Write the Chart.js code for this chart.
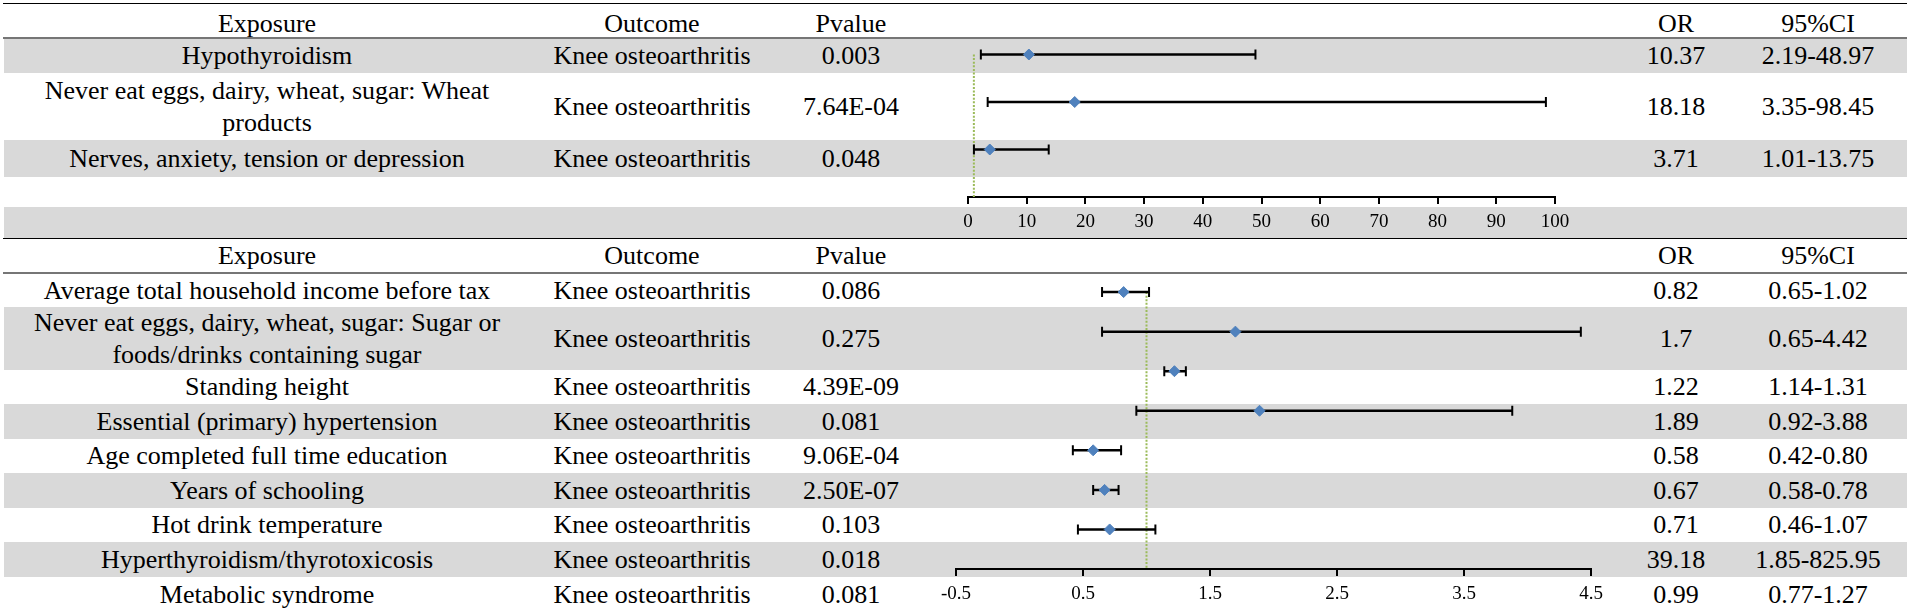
<!DOCTYPE html>
<html>
<head>
<meta charset="utf-8">
<script src="https://cdn.jsdelivr.net/npm/chart.js@4.4.1/dist/chart.umd.min.js"></script>
<style>
html,body{margin:0;padding:0;background:#fff;}
#page{position:relative;width:1908px;height:612px;overflow:hidden;font-family:'Liberation Serif','Times New Roman',serif;color:#000;}
.band{position:absolute;left:4px;width:1903px;background:#d9d9d9;}
.rule{position:absolute;left:3px;width:1904px;}
.cell{position:absolute;width:700px;display:flex;align-items:center;justify-content:center;text-align:center;font-size:26px;line-height:1.2;white-space:pre-line;}
canvas{position:absolute;left:0;top:0;}
</style>
</head>
<body>
<div id="page">
  <div id="table"></div>
  <canvas id="topChart" width="1908" height="612"></canvas>
  <canvas id="botChart" width="1908" height="612"></canvas>
</div>
<script>
// ---------------- DATA ----------------
const columnHeaders = ['Exposure', 'Outcome', 'Pvalue', 'OR', '95%CI'];

const topExposures = [
  'Hypothyroidism',
  'Never eat eggs, dairy, wheat, sugar: Wheat\nproducts',
  'Nerves, anxiety, tension or depression'
];
const topOutcomes = ['Knee osteoarthritis', 'Knee osteoarthritis', 'Knee osteoarthritis'];
const topPvalues = ['0.003', '7.64E-04', '0.048'];
const topOR = [10.37, 18.18, 3.71];
const topLower = [2.19, 3.35, 1.01];
const topUpper = [48.97, 98.45, 13.75];
const topTicks = [0, 10, 20, 30, 40, 50, 60, 70, 80, 90, 100];

const botExposures = [
  'Average total household income before tax',
  'Never eat eggs, dairy, wheat, sugar: Sugar or\nfoods/drinks containing sugar',
  'Standing height',
  'Essential (primary) hypertension',
  'Age completed full time education',
  'Years of schooling',
  'Hot drink temperature',
  'Hyperthyroidism/thyrotoxicosis',
  'Metabolic syndrome'
];
const botOutcomes = Array(9).fill('Knee osteoarthritis');
const botPvalues = ['0.086', '0.275', '4.39E-09', '0.081', '9.06E-04', '2.50E-07', '0.103', '0.018', '0.081'];
const botOR = [0.82, 1.7, 1.22, 1.89, 0.58, 0.67, 0.71, 39.18, 0.99];
const botLower = [0.65, 0.65, 1.14, 0.92, 0.42, 0.58, 0.46, 1.85, 0.77];
const botUpper = [1.02, 4.42, 1.31, 3.88, 0.80, 0.78, 1.07, 825.95, 1.27];
const botTicks = [-0.5, 0.5, 1.5, 2.5, 3.5, 4.5];
const botPlottedRows = 7; // the original plot only shows the first seven rows
const nullLine = 1;

// ---------------- LAYOUT ----------------
const W = 1908, H = 612, AXIS_H = 40;
const colCenters = [267, 652, 851, 1676, 1818];
const topHeaderBox = [7, 41];
const topRowBoxes = [[39, 73], [73, 140], [140, 177]];
const botHeaderBox = [239, 272];
const botRowBoxes = [[274, 307], [307, 370], [370, 404], [404, 439], [439, 473], [473, 508], [508, 542], [542, 577], [577, 612]];
const greyBands = [[39, 73], [140, 177], [207, 237.5], [307, 370], [404, 439], [473, 508], [542, 577]];
const rules = [[2.5, 1.5, '#000'], [37, 2, '#767676'], [237.5, 1.5, '#000'], [272, 2, '#767676']];

const table = document.getElementById('table');
function add(cls, style, text) {
  const d = document.createElement('div');
  d.className = cls;
  Object.assign(d.style, style);
  if (text !== undefined) d.textContent = text;
  table.appendChild(d);
}
greyBands.forEach(([a, b]) => add('band', {top: a + 'px', height: (b - a) + 'px'}));
rules.forEach(([t, h, c]) => add('rule', {top: t + 'px', height: h + 'px', background: c}));

function addRow(box, values) {
  values.forEach((v, c) => add('cell', {left: (colCenters[c] - 350) + 'px', top: box[0] + 'px', height: (box[1] - box[0]) + 'px'}, v));
}
const fmtCI = (l, u) => l.toFixed(2) + '-' + u.toFixed(2);
addRow(topHeaderBox, columnHeaders);
topRowBoxes.forEach((box, i) => addRow(box, [topExposures[i], topOutcomes[i], topPvalues[i], String(topOR[i]), fmtCI(topLower[i], topUpper[i])]));
addRow(botHeaderBox, columnHeaders);
botRowBoxes.forEach((box, i) => addRow(box, [botExposures[i], botOutcomes[i], botPvalues[i], String(botOR[i]), fmtCI(botLower[i], botUpper[i])]));

// ---------------- CHARTS ----------------
function forest(id, or, lo, hi, xMin, xMax, ticks, area, axisWidth) {
  const n = or.length;
  const datasets = [];
  datasets.push({
    type: 'scatter',
    data: or.map((v, i) => ({x: v, y: i})),
    pointStyle: 'rectRot', pointRadius: 5.5, pointHoverRadius: 5.5,
    pointBackgroundColor: '#4F81BD', pointBorderColor: '#4F81BD', pointBorderWidth: 1
  });
  or.forEach((v, i) => datasets.push({
    type: 'line',
    data: [{x: lo[i], y: i}, {x: hi[i], y: i}],
    borderColor: '#000', borderWidth: 2.5, fill: false, tension: 0,
    pointStyle: 'line', pointRotation: 90, pointRadius: 5, pointHoverRadius: 5,
    pointBorderColor: '#000', pointBorderWidth: 2, pointBackgroundColor: '#000'
  }));
  datasets.push({
    type: 'line',
    data: [{x: nullLine, y: 0}, {x: nullLine, y: n}],
    borderColor: '#9BBB59', borderWidth: 2, borderDash: [2, 1.6], pointRadius: 0, fill: false
  });
  return new Chart(document.getElementById(id), {
    type: 'scatter',
    data: {datasets},
    options: {
      responsive: false, animation: false, events: [],
      layout: {padding: {left: area.left, right: W - area.right, top: area.top, bottom: H - area.bottom - AXIS_H}},
      plugins: {legend: {display: false}, tooltip: {enabled: false}},
      scales: {
        x: {
          type: 'linear', min: xMin, max: xMax,
          afterBuildTicks: s => { s.ticks = ticks.map(v => ({value: v})); },
          afterFit: s => { s.height = AXIS_H; },
          ticks: {autoSkip: false, maxRotation: 0, minRotation: 0, padding: 7, color: '#000',
                  font: {family: "'Liberation Serif', 'Times New Roman', serif", size: 19}, callback: v => String(v)},
          grid: {display: true, drawOnChartArea: false, drawTicks: true, tickLength: 7, color: '#000', lineWidth: axisWidth},
          border: {display: true, color: '#000', width: axisWidth}
        },
        y: {type: 'linear', reverse: true, min: -1, max: n, display: false}
      }
    }
  });
}

forest('topChart', topOR, topLower, topUpper, 0, 100, topTicks,
  {left: 968, right: 1555, top: 6.3, bottom: 197}, 2);
forest('botChart', botOR.slice(0, botPlottedRows), botLower.slice(0, botPlottedRows), botUpper.slice(0, botPlottedRows),
  -0.5, 4.5, botTicks, {left: 956, right: 1591, top: 252.5, bottom: 569}, 2);
</script>
</body>
</html>
